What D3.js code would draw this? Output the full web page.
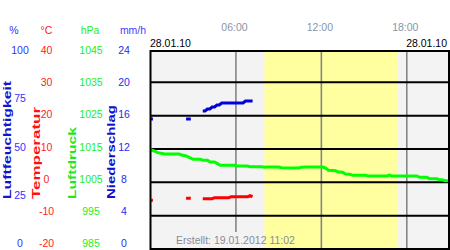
<!DOCTYPE html>
<html><head><meta charset="utf-8">
<script src="https://cdn.jsdelivr.net/npm/d3@7"></script>
<style>body{margin:0;background:#fff}svg{display:block}text{font-family:"Liberation Sans",Arial,sans-serif}</style>
</head><body><svg id="c" width="450" height="250"></svg>
<script>
// ---- data ----
const humidityTicks = [100, 75, 50, 25, 0];
const temperatureTicks = [40, 30, 20, 10, 0, -10, -20];
const pressureTicks = [1045, 1035, 1025, 1015, 1005, 995, 985];
const precipitationTicks = [24, 20, 16, 12, 8, 4, 0];
const timeTicks = [6, 12, 18];
const timeTickLabels = ["06:00", "12:00", "18:00"];
const dateLabel = "28.01.10";
const createdLabel = "Erstellt: 19.01.2012 11:02";
const daylight = [8.0, 17.37];

const sensorHours = [0, 0.17, 0.33, 2.5, 2.67, 2.83, 3.0, 3.67, 3.83, 4.0, 4.17, 4.33, 4.5, 4.67, 4.83, 5.0, 5.17, 5.33, 5.5, 5.67, 5.83, 6.0, 6.17, 6.33, 6.5, 6.67, 6.83, 7.0, 7.17];
const humidityValues = [65, 65, null, 65, 65, 65, null, 69, 69, 70, 70, 71, 71, 72, 72, 73, 73, 73, 73, 73, 73, 73, 73, 73, 73, 74, 74, 74, 74];
const temperatureValues = [-5.4, -5.4, null, -4.8, -4.8, -4.8, null, -4.9, -4.9, -4.9, -4.9, -4.9, -4.6, -4.6, -4.6, -4.6, -4.6, -4.6, -4.6, -4.3, -4.3, -4.3, -4.3, -4.3, -4.3, -4.3, -4.3, -4.0, -4.3];

const pressureHours = [0, 0.25, 0.5, 1.0, 2.0, 2.2, 2.5, 2.75, 3.0, 3.5, 3.7, 4.0, 4.2, 4.5, 4.7, 4.9, 5.9, 6.1, 6.8, 7.0, 7.8, 8.0, 8.2, 9.0, 9.2, 10.4, 10.6, 11.0, 12.1, 12.3, 12.5, 13.0, 13.2, 13.5, 13.7, 14.0, 14.2, 15.1, 15.3, 16.6, 16.8, 16.95, 18.7, 18.9, 19.4, 19.6, 20.1, 20.3, 20.5, 20.65, 21];
const pressureValues = [1014.8, 1014.4, 1013.9, 1013.5, 1013.5, 1013.2, 1012.9, 1012.4, 1011.9, 1011.9, 1011.6, 1011.6, 1011.1, 1011.1, 1010.6, 1010.1, 1010.1, 1009.9, 1009.9, 1009.7, 1009.7, 1009.5, 1009.6, 1009.6, 1009.4, 1009.3, 1009.5, 1009.6, 1009.6, 1009.3, 1008.6, 1008.5, 1008.1, 1008.0, 1007.5, 1007.4, 1007.1, 1007.1, 1006.9, 1006.9, 1007.2, 1006.9, 1006.9, 1006.5, 1006.5, 1006.1, 1006.1, 1005.8, 1005.8, 1005.5, 1005.5];

const precipitationHours = [];
const precipitationValues = [];

// ---- layout ----
const L = 150.5, R = 449, T = 51, B = 249;
const svg = d3.select("#c");
const x = d3.scaleLinear([0, 21], [150.5, 449.5]);
const yHum = d3.scaleLinear([0, 100], [249, 49]);
const yTemp = d3.scaleLinear([-20, 40], [249, 49]);
const yPres = d3.scaleLinear([985, 1045], [249, 49]);
const yRain = d3.scaleLinear([0, 24], [249, 49]);
const lHum = d3.scaleLinear([0, 100], [243, 50]);
const lTemp = d3.scaleLinear([-20, 40], [243, 50]);
const lPres = d3.scaleLinear([985, 1045], [243, 50]);
const lRain = d3.scaleLinear([0, 24], [243, 50]);

// plot background
svg.append("rect").attr("x", L).attr("y", T).attr("width", R - L).attr("height", B - T).attr("fill", "#f3f3f3");
svg.append("rect").attr("x", x(daylight[0])).attr("y", T).attr("width", x(daylight[1]) - x(daylight[0])).attr("height", B - T).attr("fill", "#ffffa0");

// vertical grid
svg.append("g").selectAll("line").data(timeTicks).join("line")
  .attr("x1", d => x(d)).attr("x2", d => x(d)).attr("y1", T).attr("y2", d => d < daylight[0] ? 232 : B)
  .attr("stroke", "#858585").attr("stroke-width", 1.6);

// horizontal grid
svg.append("g").selectAll("line").data(precipitationTicks.filter(d => d > 0 && d < 24)).join("line")
  .attr("x1", L).attr("x2", R).attr("y1", d => yRain(d)).attr("y2", d => yRain(d))
  .attr("stroke", "#000").attr("stroke-width", 2);

// created label
svg.append("text").attr("x", 176).attr("y", 244).attr("font-size", 10.5).attr("fill", "#8a8a96").text(createdLabel);

// data lines
function series(hours, vals, ys, color) {
  const pts = hours.map((h, i) => ({h, v: vals[i]}));
  const line = d3.line().defined(d => d.v != null).x(d => x(d.h)).y(d => ys(d.v));
  svg.append("path").attr("d", line(pts)).attr("fill", "none").attr("stroke", color)
    .attr("stroke-width", 3).attr("stroke-linecap", "butt");
}
series(pressureHours, pressureValues, yPres, "#00ff00");
series(sensorHours, humidityValues, yHum, "#0000dd");
series(sensorHours, temperatureValues, yTemp, "#ff0000");
series(precipitationHours, precipitationValues, yRain, "#0000cc");

// frame
svg.append("rect").attr("x", L).attr("y", T).attr("width", R - L).attr("height", B - T)
  .attr("fill", "none").attr("stroke", "#000").attr("stroke-width", 2);

// time axis (top)
const xAxis = d3.axisTop(x).tickValues(timeTicks).tickSize(0).tickFormat((d, i) => timeTickLabels[i]);
const gx = svg.append("g").attr("transform", "translate(-2,34)").call(xAxis);
gx.select(".domain").remove();
gx.selectAll("text").attr("font-size", 10.5).attr("fill", "#8a94a6").attr("font-family", '"Liberation Sans",Arial,sans-serif');

svg.append("text").attr("x", 150).attr("y", 47).attr("font-size", 10.5).attr("fill", "#000").text(dateLabel);
svg.append("text").attr("x", 447).attr("y", 47).attr("text-anchor", "end").attr("font-size", 10.5).attr("fill", "#000").text(dateLabel);

// left tick columns
function column(ticks, sc, cx, color) {
  svg.append("g").selectAll("text").data(ticks).join("text")
    .attr("x", cx).attr("y", d => sc(d)).attr("text-anchor", "middle").attr("dominant-baseline", "central")
    .attr("font-size", 10.5).attr("fill", color).text(d => d);
}
column(humidityTicks, lHum, 20, "#3232ff");
column(temperatureTicks, lTemp, 46.5, "#ff2222");
column(pressureTicks, lPres, 91, "#22ee22");
column(precipitationTicks, lRain, 124, "#2a2aee");

// headers
const headers = [["%", 14, "#3232ff"], ["°C", 46.5, "#ff2222"], ["hPa", 90, "#22ee22"], ["mm/h", 133, "#4a3aff"]];
svg.append("g").selectAll("text").data(headers).join("text")
  .attr("x", d => d[1]).attr("y", 30).attr("text-anchor", "middle").attr("dominant-baseline", "central")
  .attr("font-size", 10.5).attr("fill", d => d[2]).text(d => d[0]);

// rotated titles
const titles = [["Luftfeuchtigkeit", 10.5, 118, "#1414cc"], ["Temperatur", 39.5, 92, "#ff1010"], ["Luftdruck", 75.5, 72, "#22e622"], ["Niederschlag", 115, 94, "#1010cc"]];
svg.append("g").selectAll("text").data(titles).join("text")
  .attr("transform", d => `translate(${d[1]},199) rotate(-90)`)
  .attr("font-family", '"DejaVu Sans",Verdana,sans-serif')
  .attr("font-size", 11.5).attr("font-weight", "bold").attr("fill", d => d[3])
  .attr("textLength", d => d[2]).attr("lengthAdjust", "spacingAndGlyphs").text(d => d[0]);
</script></body></html>
